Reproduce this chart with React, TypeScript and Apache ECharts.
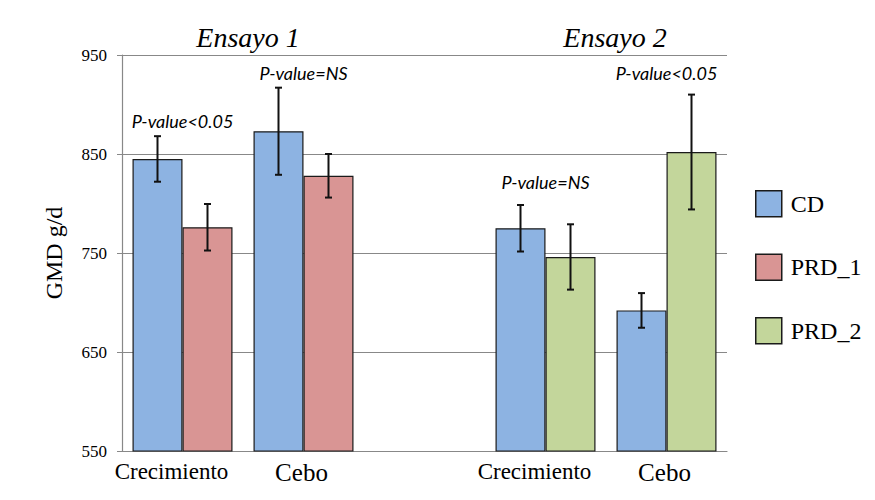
import React, { useEffect, useRef } from "react";
import * as echarts from "echarts";

const categories = ["Crecimiento", "Cebo", "", "Crecimiento", "Cebo"];
const cdValues: (number | string)[] = [845, 873, "-", 775, 692];
const cdErrors: (number | null)[] = [23, 44, null, 23.5, 17.5];
const prd1Values: (number | string)[] = [776, 828, "-", "-", "-"];
const prd1Errors: (number | null)[] = [23.5, 22, null, null, null];
const prd2Values: (number | string)[] = ["-", "-", "-", 746, 852];
const prd2Errors: (number | null)[] = [null, null, null, 33, 58];

const annotCategories = [0, 1, 3, 4];
const annotValues = [883, 932, 822, 932];
const annotTexts = ["P-value<0.05", "P-value=NS", "P-value=NS", "P-value<0.05"];

const yTicks = { min: 550, max: 950, interval: 100 };
const titles = ["Ensayo 1", "Ensayo 2"];

const BAR_WIDTH = 50;
const SERIF = "Liberation Serif";

function buildErr(values: (number | string)[], errors: (number | null)[]) {
  const out: number[][] = [];
  values.forEach((v, i) => {
    const e = errors[i];
    if (typeof v === "number" && e != null) out.push([i, v - e, v + e]);
  });
  return out;
}

function errSeries(name: string, data: number[][], offset: number) {
  return {
    type: "custom",
    name,
    z: 10,
    silent: true,
    data,
    encode: { x: 0, y: [1, 2] },
    renderItem: (params: any, api: any) => {
      const x = api.value(0);
      const lo = api.coord([x, api.value(1)]);
      const hi = api.coord([x, api.value(2)]);
      const cx = lo[0] + offset;
      const cap = 3.5;
      const st = { stroke: "#111", lineWidth: 2 };
      return {
        type: "group",
        children: [
          { type: "line", shape: { x1: cx, y1: hi[1], x2: cx, y2: lo[1] }, style: st },
          { type: "line", shape: { x1: cx - cap, y1: hi[1], x2: cx + cap, y2: hi[1] }, style: st },
          { type: "line", shape: { x1: cx - cap, y1: lo[1], x2: cx + cap, y2: lo[1] }, style: st },
        ],
      };
    },
  };
}

export default function App() {
  const ref = useRef<HTMLDivElement>(null);
  useEffect(() => {
    document.body.style.margin = "0";
    const chart = echarts.init(ref.current!, null, { renderer: "svg" });
    const barStyle = (color: string) => ({ color, borderColor: "#1a1a1a", borderWidth: 1.2 });
    const titleStyle = { fontFamily: SERIF, fontStyle: "italic", fontWeight: "normal", fontSize: 28, color: "#000" };
    chart.setOption({
      animation: false,
      backgroundColor: "#ffffff",
      title: [
        { text: titles[0], left: 243, top: 18, textAlign: "center", textStyle: titleStyle },
        { text: titles[1], left: 610, top: 18, textAlign: "center", textStyle: titleStyle },
      ],
      legend: {
        data: ["CD", "PRD_1", "PRD_2"],
        orient: "vertical",
        left: 750,
        top: 185,
        icon: "rect",
        itemWidth: 26,
        itemHeight: 26,
        itemGap: 36,
        textStyle: { fontFamily: SERIF, fontSize: 24, color: "#000", padding: [0, 0, 0, 4] },
        itemStyle: { borderColor: "#1a1a1a", borderWidth: 1.5 },
      },
      grid: { left: 122, right: 148, top: 55, bottom: 49, containLabel: false },
      xAxis: {
        type: "category",
        data: categories,
        axisLine: { lineStyle: { color: "#888", width: 1.2 } },
        axisTick: { show: false },
        axisLabel: {
          interval: 0,
          margin: 9,
          formatter: (v: string) => (v === "Cebo" ? `{b|${v}}` : `{a|${v}}`),
          rich: {
            a: { fontFamily: SERIF, fontSize: 23, color: "#000", padding: [0, 22, 0, 0] },
            b: { fontFamily: SERIF, fontSize: 25, color: "#000", padding: [0, 4, 0, 0] },
          },
        },
      },
      yAxis: {
        type: "value",
        min: yTicks.min,
        max: yTicks.max,
        interval: yTicks.interval,
        name: "GMD g/d",
        nameLocation: "middle",
        nameGap: 56,
        nameTextStyle: { fontFamily: SERIF, fontSize: 24, color: "#000" },
        axisLine: { show: true, lineStyle: { color: "#888", width: 1.2 } },
        axisTick: { show: true, length: 5, lineStyle: { color: "#888" } },
        axisLabel: { fontFamily: SERIF, fontSize: 17, color: "#000", margin: 15 },
        splitLine: { lineStyle: { color: "#888", width: 1.2 } },
      },
      series: [
        { name: "CD", type: "bar", data: cdValues, barWidth: BAR_WIDTH, barGap: "0%", itemStyle: barStyle("#8db3e2") },
        { name: "PRD_1", type: "bar", stack: "prd", data: prd1Values, barWidth: BAR_WIDTH, barGap: "0%", itemStyle: barStyle("#d99594") },
        { name: "PRD_2", type: "bar", stack: "prd", data: prd2Values, barWidth: BAR_WIDTH, barGap: "0%", itemStyle: barStyle("#c3d69b") },
        errSeries("errCD", buildErr(cdValues, cdErrors), -BAR_WIDTH / 2),
        errSeries("errPRD1", buildErr(prd1Values, prd1Errors), BAR_WIDTH / 2),
        errSeries("errPRD2", buildErr(prd2Values, prd2Errors), BAR_WIDTH / 2),
        {
          type: "scatter",
          name: "annot",
          symbolSize: 0,
          silent: true,
          z: 12,
          itemStyle: { opacity: 1 },
          data: annotCategories.map((c, i) => [c, annotValues[i]]),
          label: {
            show: true,
            position: "inside",
            formatter: (p: any) => annotTexts[p.dataIndex],
            fontFamily: "Lato",
            fontStyle: "italic",
            fontSize: 18,
            color: "#000",
            opacity: 1,
          },
        },
      ],
    });
    return () => chart.dispose();
  }, []);
  return <div ref={ref} style={{ width: 875, height: 500 }} />;
}
